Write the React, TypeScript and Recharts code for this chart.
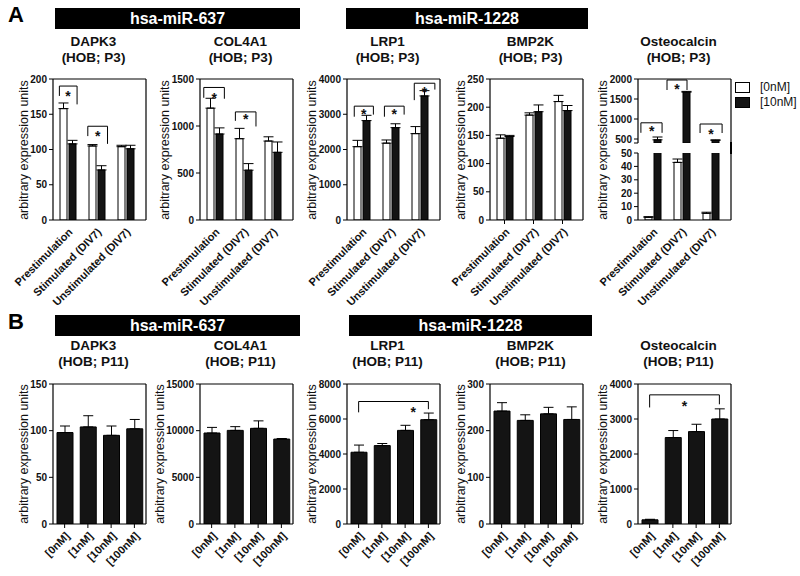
import React from 'react';
import { BarChart, Bar, XAxis, YAxis, ErrorBar, ReferenceLine, ReferenceDot, CartesianGrid } from 'recharts';

const FONT = '"Liberation Sans", Arial, Helvetica, sans-serif';

const stimCats = ['Prestimulation', 'Stimulated (DIV7)', 'Unstimulated (DIV7)'];
const doseCats = ['[0nM]', '[1nM]', '[10nM]', '[100nM]'];
const legendLabels = ['[0nM]', '[10nM]'];
const yAxisTitle = 'arbitrary expression units';

// panel A (HOB; P3), mean and SEM for [0nM] / [10nM]
const dapk3A0 = [158, 105, 104];
const dapk3A0Err = [8, 2, 2];
const dapk3A10 = [108, 71, 101];
const dapk3A10Err = [5, 6, 5];

const col4a1A0 = [1190, 865, 840];
const col4a1A0Err = [105, 110, 45];
const col4a1A10 = [915, 530, 720];
const col4a1A10Err = [65, 70, 110];

const lrp1A0 = [2080, 2180, 2450];
const lrp1A0Err = [180, 90, 200];
const lrp1A10 = [2820, 2620, 3520];
const lrp1A10Err = [150, 110, 150];

const bmp2kA0 = [145, 186, 210];
const bmp2kA0Err = [6, 4, 11];
const bmp2kA10 = [148, 192, 194];
const bmp2kA10Err = [2, 12, 9];

const osteoA0 = [2, 43, 5];
const osteoA0Err = [0.5, 2.5, 0.8];
const osteoA10 = [480, 1670, 465];
const osteoA10Err = [70, 20, 15];

// panel B (HOB; P11)
const dapk3B = [98, 104, 95, 102];
const dapk3BErr = [7, 12, 10, 10];
const col4a1B = [9750, 10030, 10250, 9100];
const col4a1BErr = [600, 400, 800, 60];
const lrp1B = [4100, 4480, 5350, 5960];
const lrp1BErr = [410, 120, 290, 380];
const bmp2kB = [242, 222, 236, 224];
const bmp2kBErr = [18, 12, 14, 27];
const osteoB = [120, 2470, 2640, 3000];
const osteoBErr = [15, 200, 210, 290];

// y ticks
const dapk3ATicks = [0, 50, 100, 150, 200];
const col4a1ATicks = [0, 500, 1000, 1500];
const lrp1ATicks = [0, 1000, 2000, 3000, 4000];
const bmp2kATicks = [0, 50, 100, 150, 200, 250];
const osteoAHighTicks = [400, 500, 1000, 1500, 2000];
const osteoALowTicks = [0, 10, 20, 30, 40, 50];
const dapk3BTicks = [0, 50, 100, 150];
const col4a1BTicks = [0, 5000, 10000, 15000];
const lrp1BTicks = [0, 2000, 4000, 6000, 8000];
const bmp2kBTicks = [0, 100, 200, 300];
const osteoBTicks = [0, 1000, 2000, 3000, 4000];

// significance brackets: x in category-band units (0 = left edge of first group), y in data units
type Bracket = { x1: number; x2: number; top: number; y1: number; y2: number; sx: number; sy: number };
const dapk3ABrackets: Bracket[] = [
  { x1: 0.22, x2: 0.83, top: 190, y1: 176, y2: 164, sx: 0.52, sy: 180 },
  { x1: 1.2, x2: 1.88, top: 133, y1: 119, y2: 108, sx: 1.54, sy: 123 },
];
const col4a1ABrackets: Bracket[] = [
  { x1: 0.13, x2: 0.84, top: 1410, y1: 1300, y2: 1290, sx: 0.49, sy: 1330 },
  { x1: 1.22, x2: 1.93, top: 1150, y1: 1055, y2: 995, sx: 1.58, sy: 1100 },
];
const lrp1ABrackets: Bracket[] = [
  { x1: 0.25, x2: 0.91, top: 3230, y1: 2930, y2: 2990, sx: 0.58, sy: 3070 },
  { x1: 1.29, x2: 1.97, top: 3230, y1: 2930, y2: 2990, sx: 1.63, sy: 3070 },
  { x1: 2.32, x2: 3.03, top: 3880, y1: 3400, y2: 3700, sx: 2.67, sy: 3710 },
];
const osteoABrackets: Bracket[] = [
  { x1: 0.1, x2: 0.83, top: 905, y1: 655, y2: 655, sx: 0.47, sy: 767 },
  { x1: 1.0, x2: 1.69, top: 1975, y1: 1725, y2: 1725, sx: 1.34, sy: 1825 },
  { x1: 2.14, x2: 2.9, top: 875, y1: 650, y2: 650, sx: 2.52, sy: 683 },
];
const lrp1BBrackets: Bracket[] = [{ x1: 0.5, x2: 3.5, top: 7000, y1: 6380, y2: 6560, sx: 2.85, sy: 6554 }];
const osteoBBrackets: Bracket[] = [{ x1: 0.5, x2: 3.5, top: 3690, y1: 3330, y2: 3420, sx: 2.0, sy: 3452 }];

const PLOT_W = 93;
const AXIS_W = 45;
const MT = 8;
const MR = 4;
const plotLefts = [53, 200, 347, 490, 638];
const TOP_A = 79;
const H_A = 141;
const TOP_B = 384;
const H_B = 140;
const WHITE = '#ffffff';
const BLACK = '#141414';
const TICK_FONT = 10;

type Series = { key: string; values: number[]; errs: number[]; fill: string; showErr: boolean; ghost?: boolean };

interface PlotProps {
  left: number;
  top: number;
  plotH: number;
  cats: string[];
  series: Series[];
  domain: [number, number];
  ticks: number[];
  brackets?: Bracket[];
  showX?: boolean;
  xHeight?: number;
  xTickLine?: boolean;
  padRight?: number;
  barSize: number;
  barGap?: number;
  frameTop?: boolean;
  blankTick?: number;
}

function SlantTick(props: any) {
  const { x, y, payload } = props;
  const ax = x + 3;
  const ay = y + 4;
  return (
    <text
      x={ax}
      y={ay}
      dy="0.35em"
      transform={`rotate(-45 ${ax} ${ay})`}
      textAnchor="end"
      fontSize={11}
      fontWeight="bold"
      fontFamily={FONT}
      fill="#111"
    >
      {payload.value}
    </text>
  );
}

function Star(props: any) {
  return (
    <text x={props.cx} y={props.cy} dy="0.55em" textAnchor="middle" fontSize={14} fontWeight="bold" fontFamily={FONT} fill="#111">
      *
    </text>
  );
}

function Plot(p: PlotProps) {
  const n = p.cats.length;
  const data = p.cats.map((c, i) => {
    const row: any = { cat: c };
    p.series.forEach((s) => {
      row[s.key] = s.values[i];
      row[s.key + 'Err'] = [0, s.errs[i]];
    });
    return row;
  });
  const noX = p.showX === false;
  const xH = noX ? 0 : p.xHeight ?? 80;
  const mb = noX ? 3 : 0;
  const width = AXIS_W + PLOT_W + MR;
  const height = MT + p.plotH + xH + mb;
  const padR = p.padRight ?? 0;
  const band = (PLOT_W - padR) / n;
  // hidden numeric axis: index i sits on the centre of group i
  const numPad = { left: band / 2, right: band / 2 + padR };
  const bx = (u: number) => u - 0.5;
  return (
    <div style={{ position: 'absolute', left: p.left - AXIS_W, top: p.top - MT }}>
      <BarChart
        width={width}
        height={height}
        data={data}
        margin={{ top: MT, right: MR, left: 0, bottom: mb }}
        barSize={p.barSize}
        barGap={p.barGap ?? 0}
      >
        <CartesianGrid
          stroke="#000"
          strokeWidth={1.2}
          vertical
          horizontal={p.frameTop !== false}
          horizontalCoordinatesGenerator={(g: any) => [g.offset.top]}
          verticalCoordinatesGenerator={(g: any) => [g.offset.left + g.offset.width]}
        />
        <XAxis
          dataKey="cat"
          interval={0}
          padding={{ left: 0, right: padR }}
          hide={noX}
          height={xH}
          tickSize={4}
          tickLine={p.xTickLine ? { stroke: '#000' } : false}
          axisLine={{ stroke: '#000', strokeWidth: 1.2 }}
          tick={(tp: any) => <SlantTick {...tp} />}
        />
        <XAxis xAxisId="n" type="number" domain={[0, n - 1]} allowDataOverflow hide padding={numPad} />
        <YAxis
          domain={p.domain}
          ticks={p.ticks}
          interval={0}
          allowDataOverflow
          width={AXIS_W}
          tickSize={4}
          tickLine={{ stroke: '#000' }}
          axisLine={{ stroke: '#000', strokeWidth: 1.2 }}
          tick={{ fontSize: TICK_FONT, fontWeight: 'bold', fill: '#111', fontFamily: FONT }}
          tickFormatter={(v: number) => (v === p.blankTick ? '' : String(v))}
        />
        {p.series.map((s) => (
          <Bar
            key={s.key}
            dataKey={s.key}
            fill={s.ghost ? 'none' : s.fill}
            stroke={s.ghost ? 'none' : '#000'}
            strokeWidth={1}
            isAnimationActive={false}
          >
            {s.showErr && <ErrorBar dataKey={s.key + 'Err'} width={5} stroke="#000" strokeWidth={1} direction="y" />}
          </Bar>
        ))}
        {(p.brackets ?? []).map((b, i) => [
          <ReferenceLine
            key={`t${i}`}
            xAxisId="n"
            ifOverflow="visible"
            stroke="#000"
            strokeWidth={1}
            segment={[{ x: bx(b.x1), y: b.top }, { x: bx(b.x2), y: b.top }]}
          />,
          <ReferenceLine
            key={`l${i}`}
            xAxisId="n"
            ifOverflow="visible"
            stroke="#000"
            strokeWidth={1}
            segment={[{ x: bx(b.x1), y: b.top }, { x: bx(b.x1), y: b.y1 }]}
          />,
          <ReferenceLine
            key={`r${i}`}
            xAxisId="n"
            ifOverflow="visible"
            stroke="#000"
            strokeWidth={1}
            segment={[{ x: bx(b.x2), y: b.top }, { x: bx(b.x2), y: b.y2 }]}
          />,
          <ReferenceDot key={`s${i}`} xAxisId="n" x={bx(b.sx)} y={b.sy} r={1} ifOverflow="visible" shape={(sp: any) => <Star {...sp} />} />,
        ])}
      </BarChart>
    </div>
  );
}

function pair(values0: number[], errs0: number[], values10: number[], errs10: number[]): Series[] {
  return [
    { key: 'v0', values: values0, errs: errs0, fill: WHITE, showErr: true },
    { key: 'v10', values: values10, errs: errs10, fill: BLACK, showErr: true },
  ];
}

function single(values: number[], errs: number[]): Series[] {
  return [{ key: 'v', values, errs, fill: BLACK, showErr: true }];
}

function Banner({ left, top, width, text }: { left: number; top: number; width: number; text: string }) {
  return (
    <div
      style={{
        position: 'absolute',
        left,
        top,
        width,
        height: 21,
        background: '#000',
        color: '#fff',
        fontSize: 16,
        fontWeight: 'bold',
        lineHeight: '21px',
        textAlign: 'center',
      }}
    >
      {text}
    </div>
  );
}

function Title({ plotLeft, top, lines }: { plotLeft: number; top: number; lines: string[] }) {
  const cx = plotLeft + PLOT_W / 2 - 6;
  return (
    <div
      style={{
        position: 'absolute',
        left: cx - 60,
        top,
        width: 120,
        textAlign: 'center',
        fontSize: 13.5,
        fontWeight: 'bold',
        lineHeight: '16px',
        color: '#111',
      }}
    >
      {lines.map((l) => (
        <div key={l}>{l}</div>
      ))}
    </div>
  );
}

// axis title sits just left of the widest tick label, as in the original layout
function YTitle({ plotLeft, cy, ticks }: { plotLeft: number; cy: number; ticks: number[] }) {
  const digits = Math.max(...ticks.map((t) => String(t).length));
  const cx = plotLeft - (digits * TICK_FONT * 0.556 + 12.5);
  return (
    <div
      style={{
        position: 'absolute',
        left: cx - 90,
        top: cy - 8,
        width: 180,
        height: 16,
        lineHeight: '16px',
        textAlign: 'center',
        fontSize: 12.5,
        color: '#111',
        whiteSpace: 'nowrap',
        transform: 'rotate(-90deg)',
      }}
    >
      {yAxisTitle}
    </div>
  );
}

export default function App() {
  const [l0, l1, l2, l3, l4] = plotLefts;
  const aX = { cats: stimCats, xHeight: 100, padRight: 6, barSize: 7, barGap: 2 };
  const bX = { cats: doseCats, xHeight: 50, xTickLine: true, barSize: 16 };
  const titleTopA = 34;
  const titleTopB = 338;
  const ticksA = [dapk3ATicks, col4a1ATicks, lrp1ATicks, bmp2kATicks, osteoAHighTicks];
  const ticksB = [dapk3BTicks, col4a1BTicks, lrp1BTicks, bmp2kBTicks, osteoBTicks];
  return (
    <div
      style={{
        position: 'absolute',
        left: 0,
        top: 0,
        width: 800,
        height: 576,
        background: '#fff',
        fontFamily: FONT,
        overflow: 'hidden',
      }}
    >
      <div style={{ position: 'absolute', left: 8, top: 2, fontSize: 22, fontWeight: 'bold' }}>A</div>
      <div style={{ position: 'absolute', left: 8, top: 309, fontSize: 22, fontWeight: 'bold' }}>B</div>

      {/* panel A */}
      <Plot {...aX} left={l0} top={TOP_A} plotH={H_A} series={pair(dapk3A0, dapk3A0Err, dapk3A10, dapk3A10Err)} domain={[0, 200]} ticks={dapk3ATicks} brackets={dapk3ABrackets} />
      <Plot {...aX} left={l1} top={TOP_A} plotH={H_A} series={pair(col4a1A0, col4a1A0Err, col4a1A10, col4a1A10Err)} domain={[0, 1500]} ticks={col4a1ATicks} brackets={col4a1ABrackets} />
      <Plot {...aX} left={l2} top={TOP_A} plotH={H_A} series={pair(lrp1A0, lrp1A0Err, lrp1A10, lrp1A10Err)} domain={[0, 4000]} ticks={lrp1ATicks} brackets={lrp1ABrackets} />
      <Plot {...aX} xTickLine left={l3} top={TOP_A} plotH={H_A} series={pair(bmp2kA0, bmp2kA0Err, bmp2kA10, bmp2kA10Err)} domain={[0, 250]} ticks={bmp2kATicks} />
      {/* osteocalcin with a broken y axis: upper segment */}
      <Plot
        {...aX}
        showX={false}
        left={l4}
        top={TOP_A}
        plotH={64}
        series={[
          { key: 'v0', values: osteoA0, errs: osteoA0Err, fill: WHITE, showErr: false, ghost: true },
          { key: 'v10', values: osteoA10, errs: osteoA10Err, fill: BLACK, showErr: true },
        ]}
        domain={[400, 2000]}
        ticks={osteoAHighTicks}
        blankTick={400}
        brackets={osteoABrackets}
      />
      {/* lower segment */}
      <Plot
        {...aX}
        frameTop={false}
        left={l4}
        top={153}
        plotH={67}
        series={[
          { key: 'v0', values: osteoA0, errs: osteoA0Err, fill: WHITE, showErr: true },
          { key: 'v10', values: osteoA10, errs: osteoA10Err, fill: BLACK, showErr: false },
        ]}
        domain={[0, 50]}
        ticks={osteoALowTicks}
      />
      <div style={{ position: 'absolute', left: l4 + PLOT_W - 0.6, top: 142, width: 1.2, height: 12, background: '#000' }} />

      {/* legend */}
      <div style={{ position: 'absolute', left: 735, top: 82, width: 13, height: 9, border: '1px solid #000', background: '#fff' }} />
      <div style={{ position: 'absolute', left: 760, top: 79, fontSize: 12, lineHeight: '16px', color: '#111' }}>{legendLabels[0]}</div>
      <div style={{ position: 'absolute', left: 735, top: 97, width: 13, height: 9, border: '1px solid #000', background: BLACK }} />
      <div style={{ position: 'absolute', left: 760, top: 94, fontSize: 12, lineHeight: '16px', color: '#111' }}>{legendLabels[1]}</div>

      {/* panel B */}
      <Plot {...bX} left={l0} top={TOP_B} plotH={H_B} series={single(dapk3B, dapk3BErr)} domain={[0, 150]} ticks={dapk3BTicks} />
      <Plot {...bX} left={l1} top={TOP_B} plotH={H_B} series={single(col4a1B, col4a1BErr)} domain={[0, 15000]} ticks={col4a1BTicks} />
      <Plot {...bX} left={l2} top={TOP_B} plotH={H_B} series={single(lrp1B, lrp1BErr)} domain={[0, 8000]} ticks={lrp1BTicks} brackets={lrp1BBrackets} />
      <Plot {...bX} left={l3} top={TOP_B} plotH={H_B} series={single(bmp2kB, bmp2kBErr)} domain={[0, 300]} ticks={bmp2kBTicks} />
      <Plot {...bX} left={l4} top={TOP_B} plotH={H_B} series={single(osteoB, osteoBErr)} domain={[0, 4000]} ticks={osteoBTicks} brackets={osteoBBrackets} />

      {/* banners, titles and axis titles drawn above the chart layers */}
      <Banner left={55} top={8} width={245} text="hsa-miR-637" />
      <Banner left={346} top={8} width={242} text="hsa-miR-1228" />
      <Banner left={55} top={315} width={245} text="hsa-miR-637" />
      <Banner left={349} top={315} width={243} text="hsa-miR-1228" />

      <Title plotLeft={l0} top={titleTopA} lines={['DAPK3', '(HOB; P3)']} />
      <Title plotLeft={l1} top={titleTopA} lines={['COL4A1', '(HOB; P3)']} />
      <Title plotLeft={l2} top={titleTopA} lines={['LRP1', '(HOB; P3)']} />
      <Title plotLeft={l3} top={titleTopA} lines={['BMP2K', '(HOB; P3)']} />
      <Title plotLeft={l4} top={titleTopA} lines={['Osteocalcin', '(HOB; P3)']} />
      <Title plotLeft={l0} top={titleTopB} lines={['DAPK3', '(HOB; P11)']} />
      <Title plotLeft={l1} top={titleTopB} lines={['COL4A1', '(HOB; P11)']} />
      <Title plotLeft={l2} top={titleTopB} lines={['LRP1', '(HOB; P11)']} />
      <Title plotLeft={l3} top={titleTopB} lines={['BMP2K', '(HOB; P11)']} />
      <Title plotLeft={l4} top={titleTopB} lines={['Osteocalcin', '(HOB; P11)']} />

      {plotLefts.map((pl, i) => (
        <YTitle key={`ya${pl}`} plotLeft={pl} cy={TOP_A + H_A / 2} ticks={ticksA[i]} />
      ))}
      {plotLefts.map((pl, i) => (
        <YTitle key={`yb${pl}`} plotLeft={pl} cy={TOP_B + H_B / 2} ticks={ticksB[i]} />
      ))}
    </div>
  );
}
